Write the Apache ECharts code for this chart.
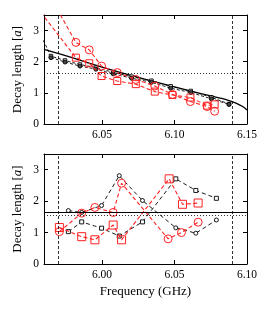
<!DOCTYPE html>
<html><head><meta charset="utf-8">
<script src="https://cdn.jsdelivr.net/npm/echarts@6/dist/echarts.min.js"></script>
<style>html,body{margin:0;padding:0;background:#fff}#c{width:274px;height:313px}</style>
</head><body><div id="c"></div>
<script>
// ---------- Top panel data ----------
const topXTicks = [6.05, 6.10, 6.15];
const yTicks = [0, 1, 2, 3];
const theoryX = [6.01, 6.03, 6.05, 6.07, 6.09, 6.11, 6.125, 6.135, 6.142, 6.147, 6.15];
const theoryY = [2.40, 2.12, 1.83, 1.56, 1.31, 1.07, 0.90, 0.79, 0.68, 0.56, 0.45];
const topBlkCircX = [6.0148, 6.0245, 6.0348, 6.0458, 6.0577, 6.0704, 6.0841, 6.0974, 6.1112, 6.1254, 6.1376];
const topBlkCircY = [2.13, 1.99, 1.86, 1.76, 1.61, 1.47, 1.34, 1.15, 1.01, 0.81, 0.63];
const topBlkSqX = [6.005, 6.0148, 6.0245, 6.0348, 6.0458, 6.0577, 6.0704, 6.0841, 6.0974, 6.1112, 6.1254, 6.1376];
const topBlkSqY = [3.12, 2.18, 2.04, 1.91, 1.81, 1.66, 1.52, 1.39, 1.21, 1.06, 0.86, 0.64];
const topRedCircX = [6.008, 6.032, 6.0412, 6.0497, 6.0605, 6.0733, 6.0864, 6.0986, 6.111, 6.1225, 6.1277];
const topRedCircY = [4.6, 2.62, 2.38, 1.86, 1.65, 1.43, 1.22, 0.95, 0.72, 0.56, 0.41];
const topRedSqX = [6.005, 6.032, 6.0412, 6.0497, 6.0605, 6.0733, 6.0864, 6.0986, 6.111, 6.1225, 6.1277];
const topRedSqY = [3.75, 2.13, 1.95, 1.54, 1.38, 1.28, 1.04, 0.93, 0.85, 0.59, 0.63];
const topVLines = [6.0172, 6.1422];
const topHDotted = 1.64;

// ---------- Bottom panel data ----------
const botXTicks = [6.00, 6.05, 6.10];
const botBlkCircX = [5.9768, 5.986, 5.9997, 6.0119, 6.0279, 6.0509, 6.0647, 6.0789];
const botBlkCircY = [1.70, 1.64, 1.86, 2.81, 2.02, 1.15, 0.98, 1.40];
const botBlkSqX = [5.9768, 5.986, 5.9997, 6.0119, 6.0279, 6.0509, 6.0647, 6.0789];
const botBlkSqY = [1.03, 1.34, 1.14, 0.89, 1.34, 2.71, 2.34, 2.09];
const botRedCircX = [5.9706, 5.986, 5.9951, 6.0077, 6.0135, 6.0456, 6.0548, 6.0663];
const botRedCircY = [1.03, 1.62, 1.80, 1.64, 2.57, 0.80, 1.00, 1.33];
const botRedSqX = [5.9706, 5.986, 5.9951, 6.0077, 6.0135, 6.0463, 6.0555, 6.0663];
const botRedSqY = [1.16, 0.87, 0.77, 1.24, 0.77, 2.71, 1.90, 1.94];
const botVLines = [5.9712, 6.0912];
const botHSolid = 1.65;
const botHDotted = 1.555;

const RED = '#f22';
const FONT = 'Liberation Serif';
const PLOT_W = 203;
const zip = (xs, ys) => xs.map((x, i) => [x, ys[i]]);

function xAxes(gi, min, max, ticks, name) {
  const base = {
    type: 'value', gridIndex: gi, min: min, max: max,
    axisLine: {show: true, onZero: false, lineStyle: {color: '#000', width: 1}},
    splitLine: {show: false},
    axisTick: {inside: true, length: 4, customValues: ticks, lineStyle: {color: '#000'}}
  };
  return [
    Object.assign({}, base, {
      position: 'bottom',
      axisLabel: {customValues: ticks, formatter: v => v.toFixed(2), color: '#000', fontFamily: FONT, fontSize: 11.5, margin: 5},
      name: name || '', nameLocation: 'middle', nameGap: 21,
      nameTextStyle: {color: '#000', fontFamily: FONT, fontSize: 13}
    }),
    Object.assign({}, base, {position: 'top', axisLabel: {show: false}})
  ];
}
function yAxes(gi) {
  const base = {
    type: 'value', gridIndex: gi, min: 0, max: 3.5,
    axisLine: {show: true, onZero: false, lineStyle: {color: '#000', width: 1}},
    splitLine: {show: false},
    axisTick: {inside: true, length: 4, customValues: yTicks, lineStyle: {color: '#000'}}
  };
  return [
    Object.assign({}, base, {
      position: 'left',
      axisLabel: {show: false},
      name: 'Decay length [{i|a}]', nameLocation: 'middle', nameRotate: 90, nameGap: 20,
      nameTextStyle: {color: '#000', fontFamily: FONT, fontSize: 13, rich: {i: {fontStyle: 'italic', fontFamily: FONT, fontSize: 13, color: '#000'}}}
    }),
    Object.assign({}, base, {position: 'right', axisLabel: {show: false}}),
    // label-only axis carrying the tick labels, placed on the left edge of the frame
    {
      type: 'value', gridIndex: gi, min: 0, max: 3.5, position: 'right', offset: -PLOT_W,
      axisLine: {show: false}, axisTick: {show: false}, splitLine: {show: false},
      axisLabel: {customValues: yTicks, inside: true, color: '#000', fontFamily: FONT, fontSize: 11.5, margin: 5,
        showMinLabel: true, hideOverlap: false}
    }
  ];
}

function marks(vl, hl) {
  const data = vl.map(v => ({xAxis: v, lineStyle: {type: [3, 2], color: '#000', width: 0.8}}));
  hl.forEach(h => data.push({yAxis: h.v, lineStyle: {type: h.t, color: '#000', width: h.w}}));
  return {symbol: 'none', silent: true, label: {show: false}, animation: false, data: data};
}

function blackSeries(xi, yi, data, sym, size, fill, dash) {
  return {type: 'line', xAxisIndex: xi, yAxisIndex: yi, data: data, symbol: sym, symbolSize: size,
    lineStyle: {color: '#000', width: 0.9, type: dash}, itemStyle: {color: fill, borderColor: '#000', borderWidth: 0.9},
    clip: true, animation: false, z: 3};
}
function redSeries(xi, yi, data, sym, size) {
  return {type: 'line', xAxisIndex: xi, yAxisIndex: yi, data: data, symbol: sym, symbolSize: size,
    lineStyle: {color: RED, width: 1.1, type: [4, 2.5]}, itemStyle: {color: 'transparent', borderColor: RED, borderWidth: 1},
    clip: true, animation: false, z: 4};
}

const chart = echarts.init(document.getElementById('c'), null, {renderer: 'canvas'});
chart.setOption({
  animation: false,
  grid: [
    {left: 44, right: 27, top: 15, height: 109},
    {left: 44, right: 27, top: 154, height: 110}
  ],
  xAxis: [].concat(xAxes(0, 6.01, 6.15, topXTicks), xAxes(1, 5.96, 6.10, botXTicks, 'Frequency (GHz)')),
  yAxis: [].concat(yAxes(0), yAxes(1)),
  series: [
    {type: 'line', xAxisIndex: 0, yAxisIndex: 0, data: zip(theoryX, theoryY), showSymbol: false, smooth: 0.3,
     lineStyle: {color: '#000', width: 1.3}, clip: true, animation: false, z: 2,
     markLine: marks(topVLines, [{v: topHDotted, t: [1, 2], w: 0.8}])},
    blackSeries(0, 0, zip(topBlkSqX, topBlkSqY), 'rect', 3.5, '#fff', [3, 2]),
    blackSeries(0, 0, zip(topBlkCircX, topBlkCircY), 'circle', 4, '#444', [3, 2]),
    redSeries(0, 0, zip(topRedCircX, topRedCircY), 'circle', 8),
    redSeries(0, 0, zip(topRedSqX, topRedSqY), 'rect', 7),

    {type: 'line', xAxisIndex: 2, yAxisIndex: 3, data: [], showSymbol: false, animation: false,
     markLine: marks(botVLines, [{v: botHSolid, t: 'solid', w: 1.2}, {v: botHDotted, t: [1, 2], w: 0.8}])},
    blackSeries(2, 3, zip(botBlkCircX, botBlkCircY), 'circle', 4, '#fff', [4, 3]),
    blackSeries(2, 3, zip(botBlkSqX, botBlkSqY), 'rect', 4, '#fff', [4, 3]),
    redSeries(2, 3, zip(botRedCircX, botRedCircY), 'circle', 8),
    redSeries(2, 3, zip(botRedSqX, botRedSqY), 'rect', 8)
  ]
});
</script></body></html>
